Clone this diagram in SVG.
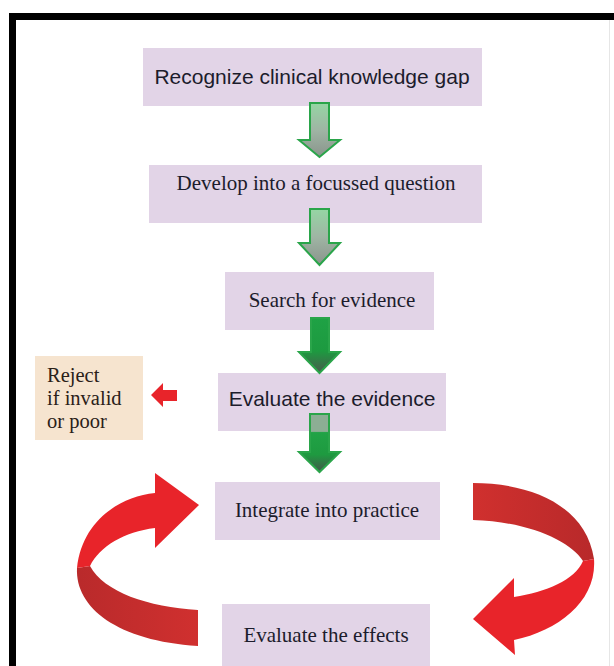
<svg xmlns="http://www.w3.org/2000/svg" width="614" height="666" viewBox="0 0 614 666">
<style>
.box{fill:#e2d4e7}
.sans{font-family:"Liberation Sans",Arial,sans-serif;font-size:21px;fill:#1c1c2c;text-anchor:middle}
.serif{font-family:"Liberation Serif","Times New Roman",serif;font-size:21px;fill:#1c1c2c;text-anchor:middle}
.rej{font-family:"Liberation Serif","Times New Roman",serif;font-size:20.5px;fill:#2a2018}
.ga{stroke:#2aa54a;stroke-width:2;stroke-linejoin:miter}
</style>
<defs>
<linearGradient id="gLight" x1="0" y1="0" x2="0" y2="1">
<stop offset="0" stop-color="#95d6a4"/>
<stop offset="0.5" stop-color="#9fb5a4"/>
<stop offset="1" stop-color="#8a948c"/>
</linearGradient>
<linearGradient id="gDark" x1="0" y1="0" x2="0" y2="1">
<stop offset="0" stop-color="#1fa245"/>
<stop offset="0.6" stop-color="#1d9a40"/>
<stop offset="1" stop-color="#4a5a4e"/>
</linearGradient>
<linearGradient id="gDark2" x1="0" y1="0" x2="0" y2="1">
<stop offset="0" stop-color="#8cae94"/>
<stop offset="0.3" stop-color="#8cae94"/>
<stop offset="0.32" stop-color="#21a346"/>
<stop offset="0.7" stop-color="#1e9a40"/>
<stop offset="1" stop-color="#44554a"/>
</linearGradient>
<linearGradient id="rDarkL" x1="0" y1="0" x2="1" y2="0">
<stop offset="0" stop-color="#b92a2b"/>
<stop offset="1" stop-color="#d0302f"/>
</linearGradient>
<linearGradient id="rDarkR" x1="0" y1="0" x2="1" y2="0">
<stop offset="0" stop-color="#d0302e"/>
<stop offset="1" stop-color="#b8292a"/>
</linearGradient>
</defs>

<rect x="0" y="0" width="614" height="666" fill="#ffffff"/>
<g id="frame">
<rect x="9" y="13" width="605" height="7" fill="#000"/>
<rect x="9" y="13" width="7" height="653" fill="#000"/>
<line x1="609.5" y1="20" x2="609.5" y2="666" stroke="#e6e6e6" stroke-width="1"/>
</g>

<g id="node-recognize">
<rect class="box" x="143" y="48" width="339" height="58"/>
<text class="sans" x="312" y="84">Recognize clinical knowledge gap</text>
</g>
<g id="node-develop">
<rect class="box" x="149" y="165" width="333" height="58"/>
<text class="serif" x="316" y="190">Develop into a focussed question</text>
</g>
<g id="node-search">
<rect class="box" x="225" y="272" width="209" height="58"/>
<text class="serif" x="332" y="307">Search for evidence</text>
</g>
<g id="node-evaluate">
<rect class="box" x="218" y="373" width="228" height="58"/>
<text class="sans" x="332" y="406">Evaluate the evidence</text>
</g>
<g id="node-reject">
<rect x="35" y="356" width="108" height="84" fill="#f6e4cf"/>
<text class="rej" x="47" y="382">Reject</text>
<text class="rej" x="47" y="405">if invalid</text>
<text class="rej" x="47" y="428">or poor</text>
</g>
<g id="node-integrate">
<rect class="box" x="215" y="482" width="225" height="58"/>
<text class="serif" x="327" y="517">Integrate into practice</text>
</g>
<g id="node-effects">
<rect class="box" x="222" y="604" width="208" height="62"/>
<text class="serif" x="326" y="642">Evaluate the effects</text>
</g>

<g id="connectors">
<path class="ga" fill="url(#gLight)" d="M310,103 H329 V140 H340 L319.5,157 L299,140 H310 Z"/>
<path class="ga" fill="url(#gLight)" d="M310,209 H329 V243 H340 L319.5,265 L299,243 H310 Z"/>
<path class="ga" fill="url(#gDark)" d="M311,318 H329 V352 H340 L319.5,373 L299,352 H311 Z"/>
<path class="ga" fill="url(#gDark2)" d="M310,414 H329 V452 H340 L319.5,472 L299,452 H310 Z"/>
<path fill="#e8242a" d="M151,395 L163,383 V390 H177 V401 H163 V407 Z"/>
<!-- left loop arrow -->
<path fill="url(#rDarkL)" d="M77,568 C75,608 118,641 198,646 L198,610 C148,607 104,592 90,566 Z"/>
<path fill="#e8242a" d="M199,505 L155,473 L155,493 C118,497 82,522 77,568 L90,566 C100,546 124,532 155,528 L155,548 Z"/>
<!-- right loop arrow -->
<path fill="url(#rDarkR)" d="M473,483 C530,483 586,505 594,559 L583,561 C570,541 530,522 473,520 Z"/>
<path fill="#e8242a" d="M594,559 C597,600 560,630 514,640 L515,655 L473,619 L514,578 L514,597 C546,592 575,580 583,561 Z"/>
</g>
</svg>
